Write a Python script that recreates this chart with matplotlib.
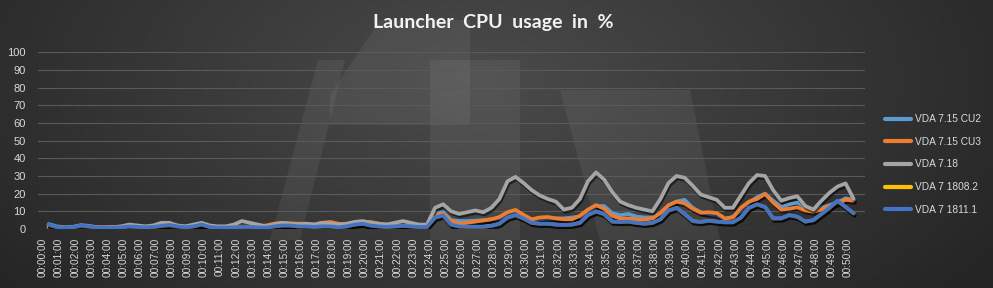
import numpy as np
import matplotlib
matplotlib.use("Agg")
import matplotlib.pyplot as plt
import matplotlib.patheffects as pe
from matplotlib.patches import Polygon

# ---------------- data ----------------
minute_labels = ["00:%02d:00" % m for m in range(0, 51)]
t_start = 0.35      # minutes, first sample
t_step = 0.5        # minutes between samples

series_names = ["VDA 7.15 CU2", "VDA 7.15 CU3", "VDA 7.18", "VDA 7 1808.2", "VDA 7 1811.1"]
series_colors = ["#5B9BD5", "#ED7D31", "#A5A5A5", "#FFC000", "#4472C4"]

vda715cu2 = [2.8, 1.5, 1, 1.2, 2.2, 1.8, 1, 1, 1, 1.2, 1.8, 1.5, 1.2, 1.5, 2, 2.5, 1.8, 1.2, 1.8, 2.8,
             1.5, 1, 1, 1.2, 1.5, 1.5, 1.2, 1, 1.8, 2.2, 2.2, 1.8, 1.8, 1.5, 1.8, 1.8, 1.2, 1.8, 2.8, 3.2,
             2.2, 1.8, 1.5, 1.8, 2, 1.8, 1.5, 1.5,
             9, 9.5, 5, 4.5, 4.5, 4.7, 5, 5.5, 6, 8.5, 10, 7.5, 5, 5.5, 5.8, 6, 6, 6.5, 7, 10,
             13, 13, 9, 7.8, 8.5, 7, 6.5, 6.5, 9, 13, 15.5, 16.5, 12, 9.5, 8.5, 8, 5.5, 7, 10, 15,
             18, 20, 16, 12.5, 14, 15, 12.5, 11, 12, 13.5, 15, 17.4, 16.5]

vda715cu3 = [1, 0.8, 0.5, 0.8, 1, 1.2, 1, 0.8, 1, 1, 1.2, 1, 0.8, 1, 1.5, 1.5, 1, 1, 1.5, 2,
             1.5, 1, 1, 1.5, 2, 2, 1.5, 2, 3, 3.5, 3.2, 3, 3, 2.5, 3.5, 4, 3, 2.5, 3, 3.5,
             4, 3, 2.5, 2.5, 2.5, 2, 1.5, 2,
             8, 8.5, 4.5, 3, 3.5, 4.2, 4.8, 5.5, 6.8, 9.5, 10.8, 8, 5.5, 6.5, 6.8, 6, 5.5, 5.5, 7.5, 11,
             13.5, 11.5, 7.5, 6, 6, 5.5, 5.3, 6, 9, 13.5, 15.5, 14.5, 11.5, 9.2, 9.5, 9, 6, 6.5, 12, 15.5,
             17, 19.8, 15, 11, 11.5, 12.3, 10.5, 9.8, 11, 13, 14.5, 16.5, 16]

vda718 = [2, 1, 0.5, 0.8, 1.5, 1, 0.5, 0.8, 1, 1.5, 2.5, 2, 1.5, 2, 3.5, 3.5, 2, 1.5, 2.5, 3.5,
          2, 1.5, 1.5, 2.5, 4.5, 3.5, 2.5, 1.5, 2.5, 3.5, 3, 2.5, 3, 2.5, 3.5, 3, 2.5, 3, 4, 4.5,
          3.5, 3, 2.5, 3.5, 4.5, 3.5, 2.5, 2.5,
          12, 14, 10, 8.5, 9.5, 10.5, 9.5, 12, 17, 27, 29.5, 26, 22, 19, 17, 15.5, 11, 12, 17, 27,
          32, 28, 21, 15.5, 13.5, 12, 11, 10, 17, 26, 30, 29, 24.5, 19.5, 18, 16.5, 12, 12, 19, 26,
          30.5, 30, 22, 16, 17.5, 18.5, 13, 11, 16, 20.5, 24, 25.8, 17]

vda71808 = [2.4, 1.1, 0.7, 0.9, 1.9, 1.4, 0.7, 0.7, 0.7, 0.9, 1.4, 1.1, 0.9, 1.1, 1.7, 2.2, 1.4, 0.9, 1.4, 2.5,
            1.1, 0.7, 0.7, 0.9, 1.1, 1.1, 0.9, 0.7, 1.4, 1.9, 1.9, 1.4, 1.4, 1.1, 1.4, 1.4, 0.9, 1.4, 2.4, 2.9,
            1.9, 1.4, 1.1, 1.4, 1.7, 1.4, 1.1, 1.1,
            6.3, 7.6, 2.4, 1.4, 1.2, 1.2, 1.2, 1.7, 2.9, 6.3, 7.7, 5.8, 3.4, 2.9, 2.9, 2.4, 2.2, 2.4, 3.4, 7.8,
            9.8, 8.3, 4.1, 3.9, 4.1, 3.4, 2.9, 3.4, 5.4, 10.3, 11.8, 8.3, 4.4, 3.9, 4.6, 4.1, 3.7, 3.7, 6.3, 11.8,
            13.8, 12.3, 5.9, 5.9, 7.7, 6.8, 4.1, 4.9, 8.3, 11.8, 15.8, 12.3, 8.7]

vda71811 = [2.6, 1.2, 0.8, 1, 2, 1.5, 0.8, 0.8, 0.8, 1, 1.5, 1.2, 1, 1.2, 1.8, 2.3, 1.5, 1, 1.5, 2.6,
            1.2, 0.8, 0.8, 1, 1.2, 1.2, 1, 0.8, 1.5, 2, 2, 1.5, 1.5, 1.2, 1.5, 1.5, 1, 1.5, 2.5, 3,
            2, 1.5, 1.2, 1.5, 1.8, 1.5, 1.2, 1.2,
            6.5, 7.8, 2.5, 1.5, 1.3, 1.3, 1.3, 1.8, 3, 6.5, 7.9, 6, 3.5, 3, 3, 2.5, 2.3, 2.5, 3.5, 8,
            10, 8.5, 4.2, 4, 4.2, 3.5, 3, 3.5, 5.5, 10.5, 12, 8.5, 4.5, 4, 4.7, 4.2, 3.8, 3.8, 6.5, 12,
            14, 12.5, 6, 6, 7.9, 7, 4.2, 5, 8.5, 12, 16, 12.5, 8.9]

series_values = [vda715cu2, vda715cu3, vda718, vda71808, vda71811]
yticks = list(range(0, 101, 10))

# ---------------- figure ----------------
W, H = 993, 288
fig = plt.figure(figsize=(W / 100, H / 100), dpi=100)

# background gradient
bg = fig.add_axes([0, 0, 1, 1], zorder=-10)
yy, xx = np.mgrid[0:H, 0:W]
cx, cy = 480, 80
d = np.sqrt(((xx - cx) / 620.0) ** 2 + ((yy - cy) / 330.0) ** 2)
d = np.clip(d, 0, 1)
c_in = np.array([0x4b, 0x4b, 0x4b]) / 255.0
c_out = np.array([0x25, 0x25, 0x25]) / 255.0
img = c_in[None, None, :] * (1 - d[..., None]) + c_out[None, None, :] * d[..., None]
bg.imshow(img, extent=[0, W, H, 0], aspect="auto", interpolation="bilinear")
bg.set_xlim(0, W)
bg.set_ylim(H, 0)
bg.axis("off")

# watermark (approximate light translucent logo shapes)
wm = dict(closed=True, facecolor="white", edgecolor="none", alpha=0.06)
bg.add_patch(Polygon([(270, 240), (318, 60), (345, 60), (300, 240)], **wm))
bg.add_patch(Polygon([(380, 20), (330, 95), (470, 95), (470, 20)], **wm))
bg.add_patch(Polygon([(330, 95), (470, 95), (470, 125), (330, 125)], **wm))
bg.add_patch(Polygon([(430, 60), (520, 60), (520, 240), (430, 240)], **wm))
bg.add_patch(Polygon([(560, 90), (690, 90), (720, 240), (600, 240)], **wm))

# plot axes
L, R, T, B = 38, 865, 52.3, 229
ax = fig.add_axes([L / W, (H - B) / H, (R - L) / W, (B - T) / H])
ax.set_facecolor("none")

px_per_min = 16.1
x0_px = 43
ax.set_xlim(-(x0_px - L) / px_per_min, (R - x0_px) / px_per_min)
ax.set_ylim(0, 100)

t = t_start + t_step * np.arange(len(vda718))
for name, col, vals in zip(series_names, series_colors, series_values):
    ax.plot(t, vals, color=col, lw=2.7, solid_joinstyle="round", solid_capstyle="round",
            label=name,
            path_effects=[pe.SimpleLineShadow(offset=(0.8, -1.6), shadow_color="black", alpha=0.55),
                          pe.Normal()])

ax.set_yticks(yticks)
ax.set_xticks(range(0, 51))
ax.set_xticklabels(minute_labels, rotation=90, va="top", ha="center")
ax.tick_params(axis="both", length=0, colors="#d9d9d9", labelsize=7.3)
ax.tick_params(axis="y", pad=9, labelsize=8)
ax.tick_params(axis="x", pad=6)
for lab in ax.get_xticklabels() + ax.get_yticklabels():
    lab.set_fontfamily("Liberation Sans")
ax.grid(axis="y", color="#5a5a5a", lw=0.8)
ax.grid(axis="x", visible=False)
ax.set_axisbelow(True)
for s in ax.spines.values():
    s.set_visible(False)

# title
fig.text(0.497, 0.922, "Launcher  CPU  usage  in  %", ha="center", va="center",
         fontsize=14, fontweight="bold", color="#f2f2f2", family="Lato")

# legend
leg = fig.legend(loc="upper left", bbox_to_anchor=(876 / W, 1 - 105 / H), frameon=False,
                 handlelength=2.6, handletextpad=0.3, labelspacing=1.25,
                 prop={"family": "Liberation Sans", "size": 7.3})
for txt in leg.get_texts():
    txt.set_color("#d9d9d9")
for h in leg.legend_handles:
    h.set_linewidth(3)
    h.set_path_effects([])

fig.savefig("out.png", dpi=100)
